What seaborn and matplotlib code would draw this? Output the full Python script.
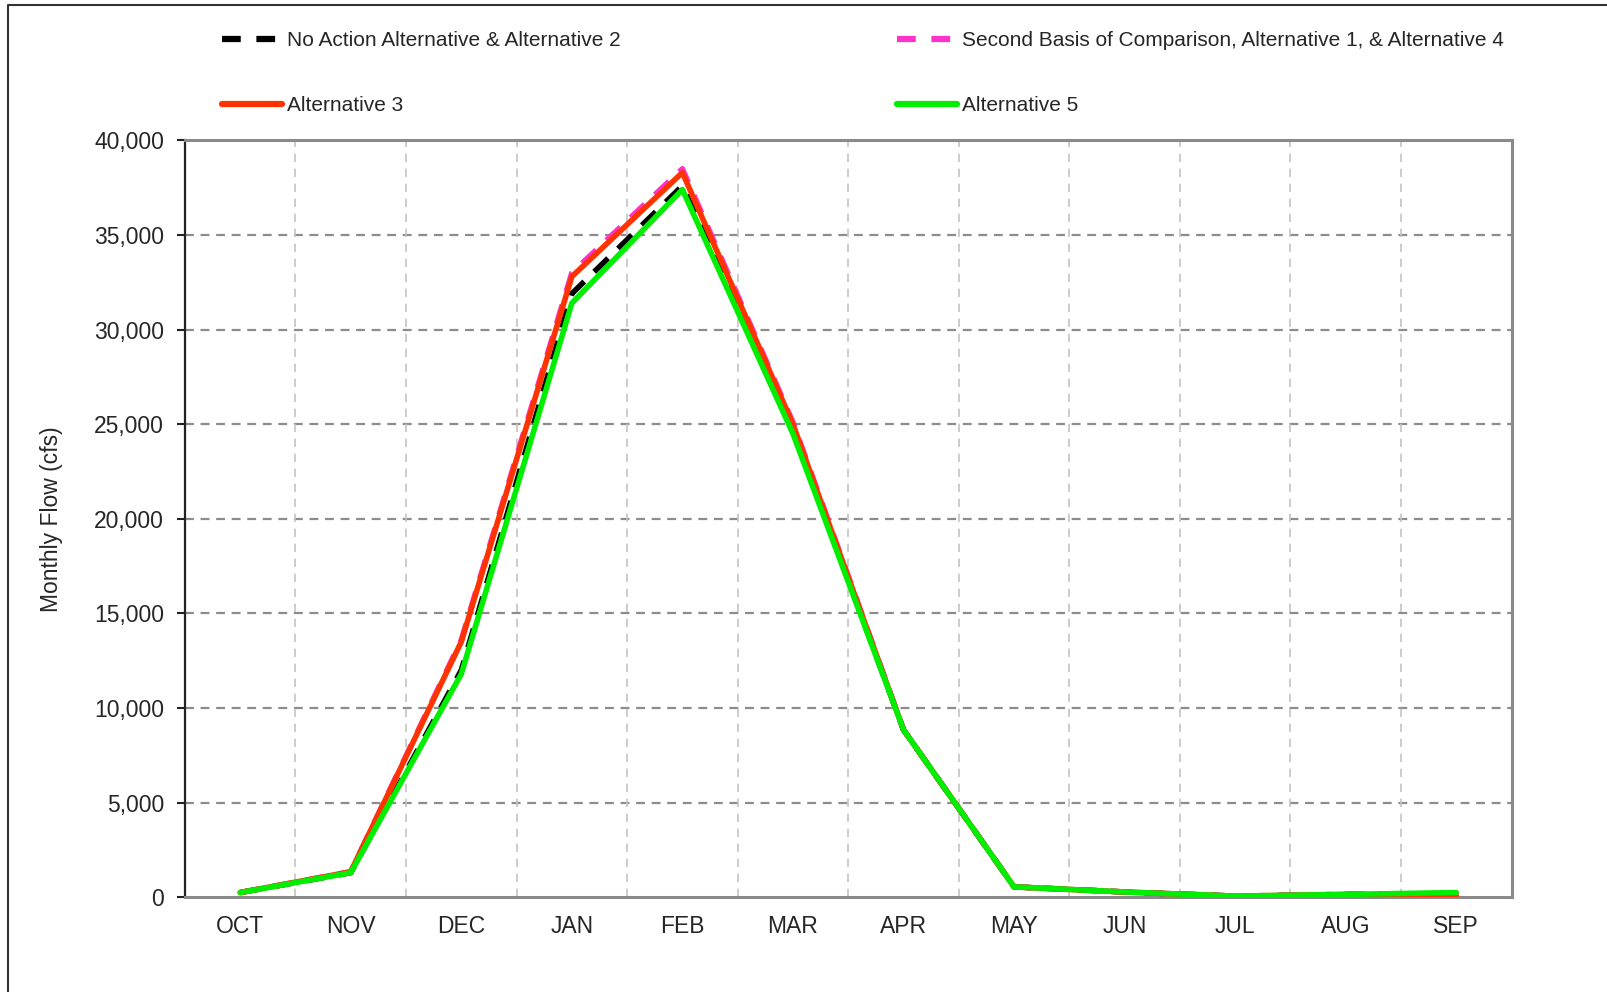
import numpy as np
import pandas as pd
import seaborn as sns
import matplotlib.pyplot as plt
from matplotlib.lines import Line2D
from matplotlib.ticker import FuncFormatter

# valores (cfs)
months = ["OCT", "NOV", "DEC", "JAN", "FEB", "MAR", "APR", "MAY", "JUN", "JUL", "AUG", "SEP"]
no_action = [250, 1300, 12000, 31900, 37600, 24700, 8850, 550, 280, 60, 150, 200]
second_basis = [250, 1350, 13600, 33000, 38500, 25100, 8850, 550, 280, 60, 150, 150]
alt3 = [250, 1350, 13500, 32800, 38300, 25000, 8850, 550, 280, 60, 150, 100]
alt5 = [250, 1300, 11800, 31400, 37400, 24500, 8850, 550, 280, 60, 150, 250]

labels = ["No Action Alternative & Alternative 2",
          "Second Basis of Comparison, Alternative 1, & Alternative 4",
          "Alternative 3",
          "Alternative 5"]
colors = ["#000000", "#FF33CC", "#FF3300", "#00EE00"]

sns.set_style("white")
plt.rcParams["font.family"] = ["Liberation Sans", "DejaVu Sans"]

fig = plt.figure(figsize=(16.08, 9.92), dpi=100)
ax = fig.add_axes([0.115, 0.0955, 0.825, 0.763])

# Grilla
ax.set_axisbelow(True)
for y in range(5000, 40001, 5000):
    ax.axhline(y, color="#8c8c8c", lw=1.6, ls=(0, (4, 3)), zorder=0)
for x in np.arange(0.5, 11.5, 1):
    ax.axvline(x, color="#c4c4c4", lw=1.2, ls=(0, (5, 4)), zorder=0)

series = [no_action, second_basis, alt3, alt5]
dashed = [True, True, False, False]
handles = []
for vals, lab, col, d in zip(series, labels, colors, dashed):
    df = pd.DataFrame({"month": months, "flow": vals})
    sns.lineplot(data=df, x="month", y="flow", ax=ax, sort=False, color=col,
                 lw=4, linestyle=(0, (3.5, 2.5)) if d else "-", legend=False, zorder=3)
    handles.append(Line2D([], [], color=col, lw=4.5,
                          linestyle=(0, (3, 2.5)) if d else "-"))

ax.set_xlim(-0.5, 11.5)
ax.set_ylim(0, 40000)
ax.set_yticks(range(0, 40001, 5000))
ax.yaxis.set_major_formatter(FuncFormatter(lambda v, p: f"{v:,.0f}"))
ax.set_xlabel("")
ax.set_ylabel("Monthly Flow (cfs)", fontsize=16.5)
ax.yaxis.set_label_coords(-0.092, 0.5)
ax.tick_params(axis="y", which="both", left=True, length=6, width=1.5,
               color="#222222", labelsize=16.5, pad=9)
ax.tick_params(axis="x", bottom=False, labelsize=16.5, pad=9)

for s in ["top", "right", "bottom"]:
    ax.spines[s].set_color("#8a8a8a")
    ax.spines[s].set_linewidth(2.2)
ax.spines["left"].set_color("#222222")
ax.spines["left"].set_linewidth(1.6)

# Leyenda en dos bloques
leg_kw = dict(loc="center left", frameon=False, fontsize=15, handlelength=2.9,
              handletextpad=0.2, labelspacing=2.2, borderpad=0, borderaxespad=0)
fig.legend([handles[0], handles[2]], [labels[0], labels[2]],
           bbox_to_anchor=(222 / 1608, 1 - 73 / 992), **leg_kw)
fig.legend([handles[1], handles[3]], [labels[1], labels[3]],
           bbox_to_anchor=(897 / 1608, 1 - 73 / 992), **leg_kw)

# Marco de la figura
fig.add_artist(Line2D([8 / 1608, 8 / 1608, 1], [0, 1 - 5 / 992, 1 - 5 / 992],
                      color="#333333", lw=1.5, transform=fig.transFigure))

fig.savefig("out.png", dpi=100)
